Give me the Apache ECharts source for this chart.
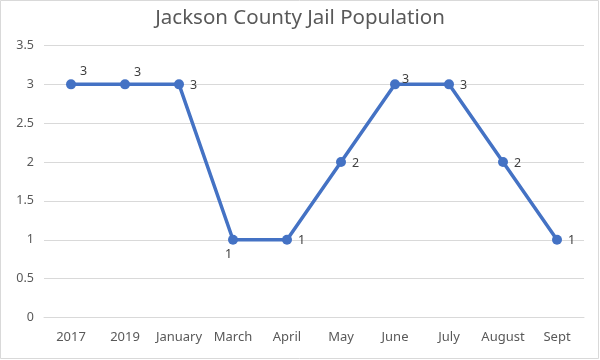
<!DOCTYPE html>
<html><head><meta charset="utf-8">
<script src="https://cdn.jsdelivr.net/npm/echarts@6/dist/echarts.min.js"></script>
<style>html,body{margin:0;padding:0;background:#fff}#c{width:600px;height:360px}</style>
</head><body><div id="c"></div>
<script>
const categories = ['2017','2019','January','March','April','May','June','July','August','Sept'];
const population = [3,3,3,1,1,2,3,3,2,1];
const yTicks = [0,0.5,1,1.5,2,2.5,3,3.5];
// label placement per point (style only)
const labelOffsets = [[-2,-13],[-2,-12],[0,1],[-19,15],[0,1],[0,1],[-4,-5],[0,1],[0,1],[0,1]];

const chart = echarts.init(document.getElementById('c'));
const font = '"Noto Sans", "Open Sans", sans-serif';
chart.setOption({
  animation: false,
  backgroundColor: '#fff',
  title: {
    text: 'Jackson County Jail Population',
    left: 'center', top: 3,
    textStyle: {fontFamily: font, fontSize: 20.5, fontWeight: 'normal', color: '#595959'}
  },
  graphic: [{type:'rect', shape:{x:0.5,y:0.5,width:598,height:358}, style:{fill:'none', stroke:'#d9d9d9', lineWidth:1}, silent:true}],
  grid: {left: 44, right: 16, top: 45.5, bottom: 42.5, containLabel: false},
  xAxis: {
    type: 'category', data: categories, boundaryGap: true,
    axisLine: {show: true, lineStyle: {color: '#d9d9d9'}},
    axisTick: {show: false},
    axisLabel: {fontFamily: font, fontSize: 13, color: '#595959', margin: 13, interval: 0}
  },
  yAxis: {
    type: 'value', min: yTicks[0], max: yTicks[yTicks.length-1], interval: 0.5,
    axisLine: {show: false}, axisTick: {show: false},
    splitLine: {lineStyle: {color: '#d9d9d9', width: 1}},
    axisLabel: {fontFamily: font, fontSize: 12.5, color: '#595959', margin: 10}
  },
  series: [{
    type: 'line',
    data: population.map((v,i) => ({value: v, label: {offset: labelOffsets[i]}})),
    symbol: 'circle', symbolSize: 10,
    lineStyle: {color: '#4472c4', width: 3.5},
    itemStyle: {color: '#4472c4'},
    label: {show: true, position: 'right', distance: 6, fontFamily: font, fontSize: 12.5, color: '#404040'}
  }]
});
</script></body></html>
